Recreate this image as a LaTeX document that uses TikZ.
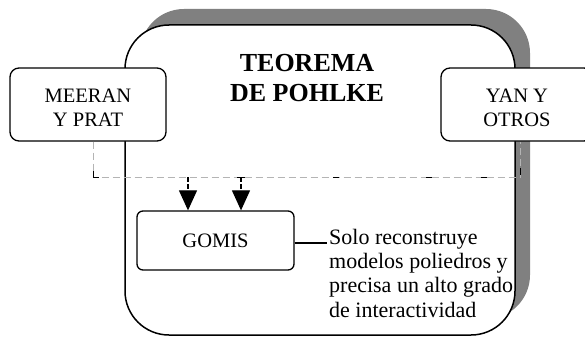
\documentclass[tikz,border=0pt]{standalone}
\usepackage{fontspec}
\setmainfont{Liberation Serif}
\usetikzlibrary{arrows.meta}
\definecolor{shadowgray}{HTML}{808080}
\definecolor{dashgray}{HTML}{B4B4B4}
\begin{document}
\begin{tikzpicture}[x=1pt,y=-1pt,
  frame/.style={draw=black,line width=1.5pt,fill=white},
  boxnode/.style={draw=black,line width=1.3pt,fill=white,inner sep=0pt},
  lbl/.style={font=\fontsize{20.5}{24}\selectfont,align=center,inner sep=0pt},
  conn/.style={draw=dashgray,line width=0.8pt,dash pattern=on 7pt off 4pt},
  tick/.style={draw=black,line width=0.9pt},
  arr/.style={draw=black,line width=1.2pt,dash pattern=on 5pt off 2pt,-{Triangle[width=18pt,length=20pt]}},
]
\useasboundingbox (0,0) rectangle (585,337);
% shadow and main frame
\fill[shadowgray,rounded corners=44pt] (140,9) rectangle (530,319);
\draw[frame,rounded corners=44pt] (125,25) rectangle (515,335);
% title
\node[font=\bfseries\fontsize{26}{30}\selectfont,align=center,inner sep=0pt] (title) at (307,78.5) {TEOREMA\\DE POHLKE};
% side boxes
\node[boxnode,rounded corners=9pt,minimum width=156pt,minimum height=73pt] (meeran) at (88,104.5) {};
\node[lbl] (meerantext) at (88,108) {MEERAN\\Y PRAT};
\node[boxnode,rounded corners=9pt,minimum width=152pt,minimum height=73pt] (yan) at (517,104.5) {};
\node[lbl] (yantext) at (517,108) {YAN Y\\OTROS};
% GOMIS box
\node[boxnode,rounded corners=6pt,minimum width=157pt,minimum height=59pt,font=\fontsize{20.5}{24}\selectfont] (gomis) at (215.5,240.5) {GOMIS};
% note
\node[anchor=base west,inner ysep=0pt,inner xsep=2pt,font=\fontsize{22}{24.4}\selectfont] (note) at (327,244)
  {\begin{tabular}[t]{@{}l@{}}Solo reconstruye\\modelos poliedros y\\precisa un alto grado\\de interactividad\end{tabular}};
% connectors
\coordinate (j1) at (93,177);
\coordinate (j2) at (520,177);
\draw[conn] (meeran.south -| j1) -- (j1) -- (j2) -- (yan.south -| j2);
\draw[tick] (93,171) -- (j1) -- (99,177);
\draw[tick] (333,177) -- (339,177);
\draw[tick] (426,177) -- (432,177);
\draw[tick] (481,177) -- (487,177);
\draw[tick] (520,168) -- (520,175);
\coordinate (a1) at (188,177);
\coordinate (a2) at (241,177);
\draw[tick] (237,177) -- (245,177);
\draw[arr] (a1) -- (a1 |- gomis.north);
\draw[arr] (a2) -- (a2 |- gomis.north);
\draw[line width=1.3pt] (gomis.east |- 0,243) -- (note.west |- 0,243);
\end{tikzpicture}
\end{document}
